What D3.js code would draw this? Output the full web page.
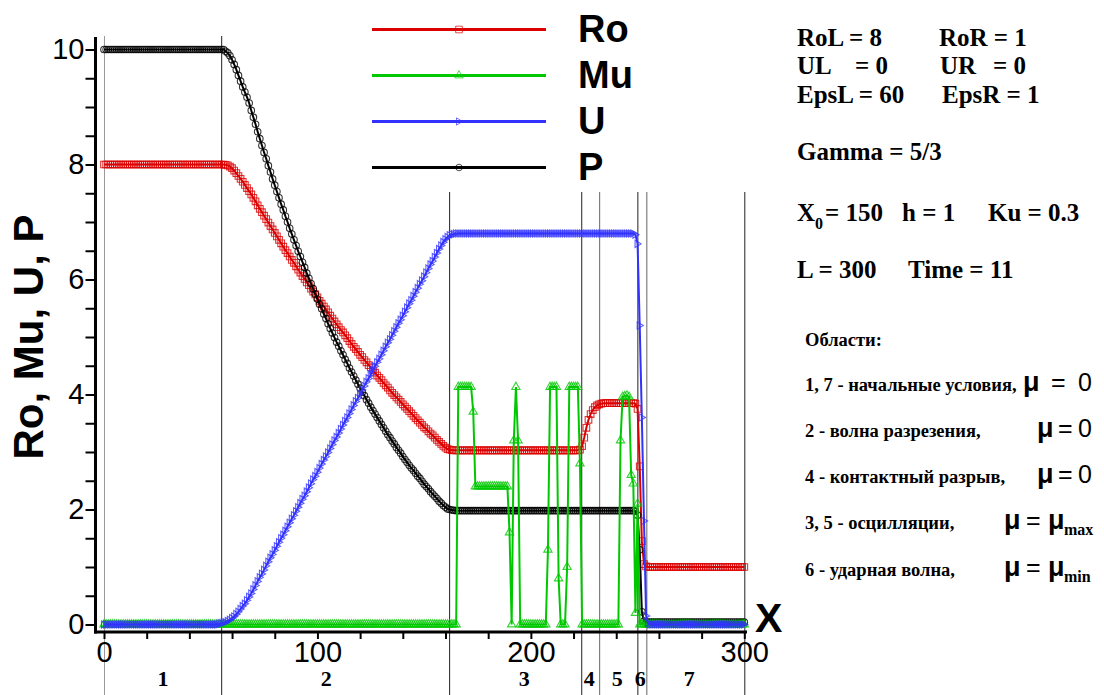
<!DOCTYPE html>
<html><head><meta charset="utf-8">
<script src="https://cdn.jsdelivr.net/npm/d3@7"></script>
<style>body{margin:0;background:#fff}svg{display:block}</style>
</head><body><svg id="c" width="1104" height="695"></svg>
<script>
// grid points x = 0..300 (h = 1)
const X = d3.range(0, 301);

const RO = [
8,8,8,8,8,8,8,8,8,8,
8,8,8,8,8,8,8,8,8,8,
8,8,8,8,8,8,8,8,8,8,
8,8,8,8,8,8,8,8,8,8,
8,8,8,8,8,8,8,8,8,8,
8,8,8,8,8,8,8,7.995,7.985,7.965,
7.935,7.895,7.85,7.8,7.75,7.7,7.645,7.59,7.535,7.48,
7.42,7.36,7.29,7.23,7.17,7.11,7.05,6.99,6.93,6.87,
6.81,6.75,6.69,6.63,6.57,6.51,6.46,6.4,6.34,6.29,
6.23,6.17,6.12,6.06,6.01,5.95,5.9,5.84,5.79,5.74,
5.69,5.63,5.58,5.53,5.48,5.43,5.37,5.32,5.27,5.22,
5.17,5.12,5.08,5.03,4.98,4.93,4.88,4.83,4.79,4.74,
4.69,4.65,4.6,4.56,4.51,4.47,4.42,4.38,4.33,4.29,
4.25,4.2,4.16,4.12,4.07,4.03,3.99,3.95,3.91,3.87,
3.83,3.79,3.75,3.71,3.67,3.63,3.59,3.55,3.51,3.47,
3.43,3.4,3.36,3.32,3.29,3.25,3.21,3.175,3.14,3.105,
3.075,3.05,3.04,3.033,3.03,3.03,3.03,3.03,3.03,3.03,
3.03,3.03,3.03,3.03,3.03,3.03,3.03,3.03,3.03,3.03,
3.03,3.03,3.03,3.03,3.03,3.03,3.03,3.03,3.03,3.03,
3.03,3.03,3.03,3.03,3.03,3.03,3.03,3.03,3.03,3.03,
3.03,3.03,3.03,3.03,3.03,3.03,3.03,3.03,3.03,3.03,
3.03,3.03,3.03,3.03,3.03,3.03,3.03,3.03,3.03,3.03,
3.03,3.03,3.03,3.04,3.1,3.25,3.42,3.56,3.66,3.73,
3.78,3.81,3.83,3.84,3.85,3.85,3.85,3.85,3.85,3.85,
3.85,3.85,3.85,3.85,3.85,3.85,3.85,3.85,3.85,3.84,
3.75,2.75,1.45,1.05,1.01,1,1,1,1,1,
1,1,1,1,1,1,1,1,1,1,
1,1,1,1,1,1,1,1,1,1,
1,1,1,1,1,1,1,1,1,1,
1,1,1,1,1,1,1,1,1,1,
1
];

const MU = [
0,0,0,0,0,0,0,0,0,0,
0,0,0,0,0,0,0,0,0,0,
0,0,0,0,0,0,0,0,0,0,
0,0,0,0,0,0,0,0,0,0,
0,0,0,0,0,0,0,0,0,0,
0,0,0,0,0,0,0,0,0,0,
0,0,0,0,0,0,0,0,0,0,
0,0,0,0,0,0,0,0,0,0,
0,0,0,0,0,0,0,0,0,0,
0,0,0,0,0,0,0,0,0,0,
0,0,0,0,0,0,0,0,0,0,
0,0,0,0,0,0,0,0,0,0,
0,0,0,0,0,0,0,0,0,0,
0,0,0,0,0,0,0,0,0,0,
0,0,0,0,0,0,0,0,0,0,
0,0,0,0,0,0,0,0,0,0,
0,0,0,0,0,0,4.13,4.13,4.13,4.13,
4.13,4.13,4.13,3.7,2.4,2.4,2.4,2.4,2.4,2.4,
2.4,2.4,2.4,2.4,2.4,2.4,2.4,2.4,2.4,2.4,
1.6,0,3.2,4.13,3.2,0,0,0,0,0,
0,0,0,0,0,0,0,0,1.3,4.13,
4.13,4.13,4.13,0.8,0,0,0,1,4.13,4.13,
4.13,4.13,4.13,2.8,0,0,0,0,0,0,
0,0,0,0,0,0,0,0,0,0,
0,0,3.2,3.96,3.97,3.98,3.96,2.6,2.45,0.2,
2.1,0,0,0,0,0,0,0,0,0,
0,0,0,0,0,0,0,0,0,0,
0,0,0,0,0,0,0,0,0,0,
0,0,0,0,0,0,0,0,0,0,
0,0,0,0,0,0,0,0,0,0,
0
];

const U = [
0,0,0,0,0,0,0,0,0,0,
0,0,0,0,0,0,0,0,0,0,
0,0,0,0,0,0,0,0,0,0,
0,0,0,0,0,0,0,0,0,0,
0,0,0,0,0,0,0,0,0,0,
0,0,0,0,0.01,0.02,0.03,0.04,0.06,0.08,
0.11,0.14,0.18,0.22,0.27,0.32,0.36,0.42,0.48,0.54,
0.61,0.68,0.75,0.82,0.88,0.95,1.02,1.09,1.16,1.22,
1.29,1.36,1.43,1.5,1.56,1.63,1.7,1.77,1.84,1.9,
1.97,2.04,2.11,2.18,2.24,2.31,2.38,2.45,2.52,2.58,
2.65,2.72,2.79,2.86,2.92,2.99,3.06,3.13,3.2,3.26,
3.33,3.4,3.47,3.54,3.6,3.67,3.74,3.81,3.88,3.94,
4.01,4.08,4.15,4.22,4.28,4.35,4.42,4.49,4.56,4.62,
4.69,4.76,4.83,4.9,4.96,5.03,5.1,5.17,5.24,5.3,
5.37,5.44,5.51,5.58,5.64,5.71,5.78,5.85,5.92,5.98,
6.05,6.12,6.19,6.26,6.32,6.39,6.46,6.53,6.59,6.65,
6.7,6.74,6.77,6.785,6.79,6.8,6.8,6.8,6.8,6.8,
6.8,6.8,6.8,6.8,6.8,6.8,6.8,6.8,6.8,6.8,
6.8,6.8,6.8,6.8,6.8,6.8,6.8,6.8,6.8,6.8,
6.8,6.8,6.8,6.8,6.8,6.8,6.8,6.8,6.8,6.8,
6.8,6.8,6.8,6.8,6.8,6.8,6.8,6.8,6.8,6.8,
6.8,6.8,6.8,6.8,6.8,6.8,6.8,6.8,6.8,6.8,
6.8,6.8,6.8,6.8,6.8,6.8,6.8,6.8,6.8,6.8,
6.8,6.8,6.8,6.8,6.8,6.8,6.8,6.8,6.8,6.8,
6.8,6.8,6.8,6.8,6.8,6.8,6.8,6.8,6.8,6.78,
6.62,5.2,3.6,1.8,0.15,0.02,0,0,0,0,
0,0,0,0,0,0,0,0,0,0,
0,0,0,0,0,0,0,0,0,0,
0,0,0,0,0,0,0,0,0,0,
0,0,0,0,0,0,0,0,0,0,
0
];

const P = [
10,10,10,10,10,10,10,10,10,10,
10,10,10,10,10,10,10,10,10,10,
10,10,10,10,10,10,10,10,10,10,
10,10,10,10,10,10,10,10,10,10,
10,10,10,10,10,10,10,10,10,10,
10,10,10,10,10,10,10,9.97,9.94,9.89,
9.82,9.74,9.65,9.55,9.45,9.35,9.26,9.17,9.07,8.94,
8.82,8.7,8.57,8.45,8.33,8.21,8.1,7.98,7.87,7.75,
7.64,7.53,7.42,7.31,7.21,7.1,7,6.89,6.79,6.69,
6.59,6.49,6.4,6.3,6.21,6.11,6.02,5.93,5.84,5.75,
5.66,5.57,5.49,5.4,5.32,5.23,5.15,5.07,4.99,4.91,
4.84,4.76,4.69,4.61,4.54,4.46,4.39,4.32,4.25,4.18,
4.11,4.04,3.98,3.91,3.85,3.78,3.72,3.66,3.6,3.54,
3.48,3.42,3.36,3.3,3.25,3.19,3.14,3.08,3.03,2.98,
2.92,2.87,2.82,2.77,2.72,2.68,2.63,2.58,2.54,2.49,
2.44,2.4,2.36,2.31,2.27,2.23,2.19,2.145,2.11,2.07,
2.04,2.01,2,1.99,1.985,1.98,1.98,1.98,1.98,1.98,
1.98,1.98,1.98,1.98,1.98,1.98,1.98,1.98,1.98,1.98,
1.98,1.98,1.98,1.98,1.98,1.98,1.98,1.98,1.98,1.98,
1.98,1.98,1.98,1.98,1.98,1.98,1.98,1.98,1.98,1.98,
1.98,1.98,1.98,1.98,1.98,1.98,1.98,1.98,1.98,1.98,
1.98,1.98,1.98,1.98,1.98,1.98,1.98,1.98,1.98,1.98,
1.98,1.98,1.98,1.98,1.98,1.98,1.98,1.98,1.98,1.98,
1.98,1.98,1.98,1.98,1.98,1.98,1.98,1.98,1.98,1.98,
1.98,1.98,1.98,1.98,1.98,1.98,1.98,1.98,1.98,1.97,
1.9,1.3,0.22,0.06,0.04,0.04,0.04,0.04,0.04,0.04,
0.04,0.04,0.04,0.04,0.04,0.04,0.04,0.04,0.04,0.04,
0.04,0.04,0.04,0.04,0.04,0.04,0.04,0.04,0.04,0.04,
0.04,0.04,0.04,0.04,0.04,0.04,0.04,0.04,0.04,0.04,
0.04,0.04,0.04,0.04,0.04,0.04,0.04,0.04,0.04,0.04,
0.04
];

const X_MAJOR = [0, 100, 200, 300];
const X_MINOR = d3.range(0, 301, 20);
const Y_MAJOR = [0, 2, 4, 6, 8, 10];
const Y_MINOR = d3.range(0, 10.01, 0.5);
const REGION_BOUNDS = [0, 54.9, 161.7, 223.6, 232.0, 249.9, 254.1, 300];
const REGION_LABELS = ["1", "2", "3", "4", "5", "6", "7"];
const REGION_LABEL_X = [27.7, 104.1, 196.9, 227.4, 240.5, 251.3, 274.2];
const SERIES_NAMES = ["Ro", "Mu", "U", "P"];

const SANS = "'Liberation Sans', Arial, sans-serif";
const SERIF = "'Liberation Serif', 'Times New Roman', serif";

const svg = d3.select("#c");
const x = d3.scaleLinear().domain([0, 300]).range([104, 744.3]);
const y = d3.scaleLinear().domain([0, 10]).range([624.5, 49.5]);

// region separator lines
svg.append("g").selectAll("line").data(REGION_BOUNDS).join("line")
  .attr("x1", d => x(d) + 0.5).attr("x2", d => x(d) + 0.5)
  .attr("y1", 36).attr("y2", 695)
  .attr("stroke", (d, i) => i === 0 ? "#9a9a9a" : (i === 4 || i === 6 ? "#666" : "#222"))
  .attr("stroke-width", 1);

// legend backdrop (hides the separators behind the legend)
svg.append("rect").attr("x", 352).attr("y", 0).attr("width", 410).attr("height", 192).attr("fill", "#fff");

// axes
const yAxis = d3.axisLeft(y).tickValues(Y_MINOR).tickSize(10).tickPadding(1)
  .tickFormat(d => Y_MAJOR.includes(d) ? d3.format("d")(d) : "");
const gy = svg.append("g").attr("transform", "translate(95.5,0)").call(yAxis);
gy.select(".domain").remove();
gy.selectAll(".tick line").attr("stroke", "#000").attr("stroke-width", 2);
gy.selectAll(".tick text").attr("font-family", SANS).attr("font-size", 29).attr("fill", "#000");

const xAxis = d3.axisBottom(x).tickValues(X_MINOR).tickSize(7).tickPadding(2)
  .tickFormat(d => X_MAJOR.includes(d) ? d3.format("d")(d) : "");
const gx = svg.append("g").attr("transform", "translate(0,632)").call(xAxis);
gx.select(".domain").remove();
gx.selectAll(".tick line").attr("stroke", "#000").attr("stroke-width", 2);
gx.selectAll(".tick text").attr("font-family", SANS).attr("font-size", 29).attr("fill", "#000");

svg.append("line").attr("x1", 95.5).attr("x2", 95.5).attr("y1", 37).attr("y2", 633.5)
  .attr("stroke", "#000").attr("stroke-width", 3);
svg.append("line").attr("x1", 94).attr("x2", 747).attr("y1", 632).attr("y2", 632)
  .attr("stroke", "#000").attr("stroke-width", 3);

// series
const rightTri = { draw(ctx, size) { const s = Math.sqrt(size) * 0.6;
  ctx.moveTo(s, 0); ctx.lineTo(-s * 0.7, -s); ctx.lineTo(-s * 0.7, s); ctx.closePath(); } };
const series = [
  { name: "Ro", vals: RO, color: "#dc0000", sym: d3.symbolSquare, size: 44 },
  { name: "P",  vals: P,  color: "#000000", sym: d3.symbolCircle, size: 34 },
  { name: "Mu", vals: MU, color: "#00c800", sym: d3.symbolTriangle, size: 30 },
  { name: "U",  vals: U,  color: "#3232ff", sym: rightTri, size: 36 }
];
const line = d3.line().x((d, i) => x(X[i])).y(d => y(d));
series.forEach(s => {
  const g = svg.append("g");
  g.append("path").attr("d", line(s.vals)).attr("fill", "none")
    .attr("stroke", s.color).attr("stroke-width", 2).attr("stroke-linejoin", "miter");
  g.selectAll("path.m").data(s.vals).join("path").attr("class", "m")
    .attr("transform", (d, i) => `translate(${x(X[i])},${y(d)})`)
    .attr("d", d3.symbol().type(s.sym).size(s.size))
    .attr("fill", "none").attr("stroke", s.color).attr("stroke-width", 1.1).attr("stroke-opacity", 0.8);
});

// legend
const legendStyle = { Ro: series[0], Mu: series[2], U: series[3], P: series[1] };
const lg = svg.append("g");
SERIES_NAMES.forEach((n, i) => {
  const s = legendStyle[n];
  const ly = 29.5 + i * 46;
  lg.append("line").attr("x1", 372).attr("x2", 546).attr("y1", ly).attr("y2", ly)
    .attr("stroke", s.color).attr("stroke-width", 3);
  lg.append("path").attr("transform", `translate(459,${ly})`)
    .attr("d", d3.symbol().type(s.sym).size(s.size))
    .attr("fill", "none").attr("stroke", s.color).attr("stroke-width", 1).attr("stroke-opacity", 0.7);
  lg.append("text").attr("x", 578).attr("y", ly + 12.5).text(n)
    .attr("font-family", SANS).attr("font-weight", "bold").attr("font-size", 38);
});

// axis titles
svg.append("text").attr("transform", "translate(43,337) rotate(-90)").attr("text-anchor", "middle")
  .attr("font-family", SANS).attr("font-weight", "bold").attr("font-size", 42).text("Ro, Mu, U, P");
svg.append("text").attr("x", 755).attr("y", 632).attr("font-family", SANS)
  .attr("font-weight", "bold").attr("font-size", 41).text("X");

// region numbers
svg.append("g").selectAll("text").data(REGION_LABELS).join("text")
  .attr("x", (d, i) => x(REGION_LABEL_X[i])).attr("y", 686).attr("text-anchor", "middle")
  .attr("font-family", SERIF).attr("font-weight", "bold").attr("font-size", 22).text(d => d);

// parameter panel
const params = [
  ["RoL = 8", 797, 46], ["RoR = 1", 939, 46],
  ["UL", 797, 74], ["= 0", 855, 74], ["UR", 940, 74], ["= 0", 993, 74],
  ["EpsL = 60", 797, 103], ["EpsR = 1", 942, 103],
  ["Gamma = 5/3", 797, 160],
  ["X", 797, 221], ["= 150", 825, 221], ["h = 1", 902, 221], ["Ku = 0.3", 988, 221],
  ["L = 300", 797, 278], ["Time = 11", 908, 278]
];
const pg = svg.append("g").attr("font-family", SERIF).attr("font-weight", "bold").attr("font-size", 25);
params.forEach(p => pg.append("text").attr("x", p[1]).attr("y", p[2]).text(p[0]));
pg.append("text").attr("x", 815).attr("y", 229).attr("font-size", 16).text("0");

// regions description
const desc = [
  ["Области:", 346],
  ["1, 7 - начальные условия,", 391],
  ["2 - волна разрезения,", 437],
  ["4 - контактный разрыв,", 483],
  ["3, 5 - осцилляции,", 529],
  ["6 - ударная волна,", 576]
];
const dg = svg.append("g").attr("font-family", SERIF).attr("font-weight", "bold").attr("font-size", 18.5);
desc.forEach(d => dg.append("text").attr("x", 805).attr("y", d[1]).text(d[0]));

const muRows = [
  { y: 391, mu: 1023, eq: 1051, rhs: "0", rx: 1078 },
  { y: 437, mu: 1037, eq: 1058, rhs: "0", rx: 1078 },
  { y: 483, mu: 1037, eq: 1058, rhs: "0", rx: 1078 },
  { y: 529, mu: 1004, eq: 1026, rhs: "μ", rx: 1048, sub: "max", sx: 1064 },
  { y: 576, mu: 1004, eq: 1026, rhs: "μ", rx: 1048, sub: "min", sx: 1064 }
];
const mg = svg.append("g").attr("font-family", SANS).attr("font-size", 25);
muRows.forEach(r => {
  mg.append("text").attr("x", r.mu).attr("y", r.y).attr("font-weight", "bold").attr("font-size", 27).text("μ");
  mg.append("text").attr("x", r.eq).attr("y", r.y).text("=");
  mg.append("text").attr("x", r.rx).attr("y", r.y).attr("font-weight", r.rhs === "μ" ? "bold" : "normal")
    .attr("font-size", r.rhs === "μ" ? 27 : 25).text(r.rhs);
  if (r.sub) mg.append("text").attr("x", r.sx).attr("y", r.y + 6).attr("font-family", SERIF)
    .attr("font-weight", "bold").attr("font-size", 16).text(r.sub);
});
</script></body></html>
